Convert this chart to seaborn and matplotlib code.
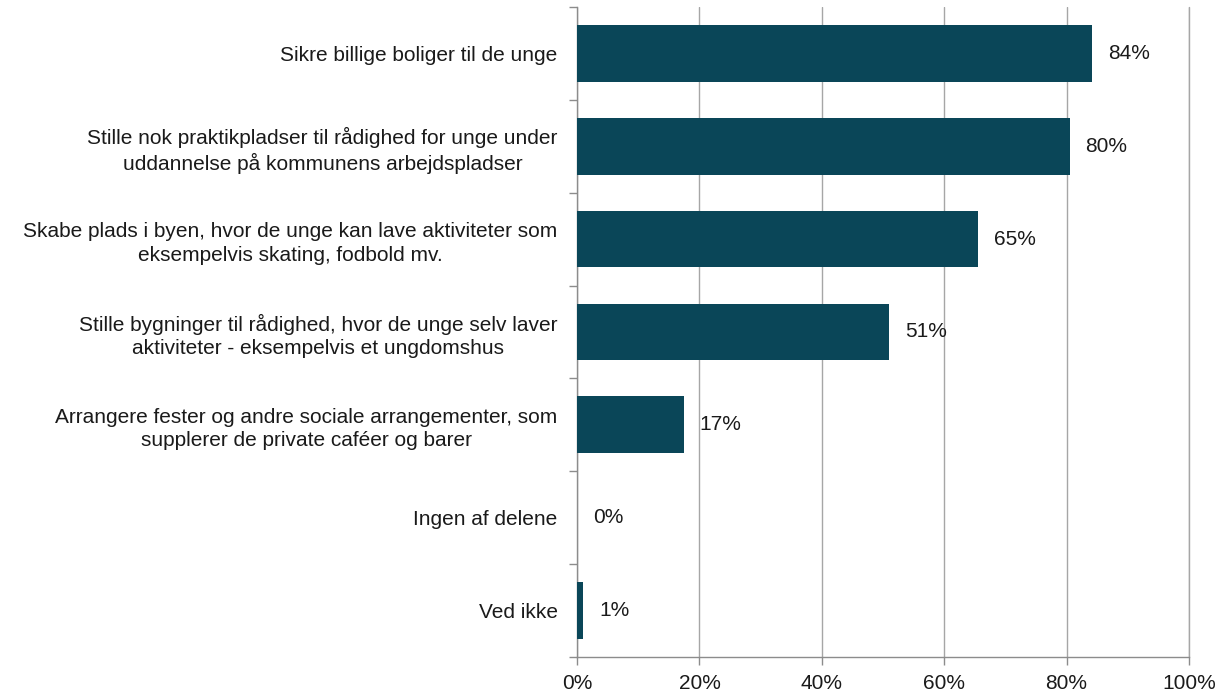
import matplotlib
matplotlib.use("Agg")
import matplotlib.pyplot as plt
import seaborn as sns
import pandas as pd

# Data
categories = [
    "Sikre billige boliger til de unge",
    "Stille nok praktikpladser til rådighed for unge under\nuddannelse på kommunens arbejdspladser",
    "Skabe plads i byen, hvor de unge kan lave aktiviteter som\neksempelvis skating, fodbold mv.",
    "Stille bygninger til rådighed, hvor de unge selv laver\naktiviteter - eksempelvis et ungdomshus",
    "Arrangere fester og andre sociale arrangementer, som\nsupplerer de private caféer og barer",
    "Ingen af delene",
    "Ved ikke",
]
values = [84.2, 80.5, 65.5, 51.0, 17.4, 0.0, 1.0]
labels = ["84%", "80%", "65%", "51%", "17%", "0%", "1%"]
xticks = [0, 20, 40, 60, 80, 100]

df = pd.DataFrame({"cat": categories, "val": values})

sns.set_style("white")
plt.rcParams["font.family"] = ["Liberation Sans", "DejaVu Sans"]

fig, ax = plt.subplots(figsize=(12.2, 6.93), dpi=100)
fig.subplots_adjust(left=0.473, right=0.9746, top=0.990, bottom=0.052)

sns.barplot(data=df, x="val", y="cat", color="#0a4658", saturation=1,
            width=0.61, linewidth=0, ax=ax, zorder=3)

# Value labels
for i, (v, lab) in enumerate(zip(values, labels)):
    ax.text(v + 2.6, i, lab, va="center", ha="left", fontsize=15, color="#1a1a1a")

ax.set_xlim(0, 100)
ax.set_ylim(6.5, -0.5)
ax.set_xticks(xticks)
ax.set_xticklabels([f"{t}%" for t in xticks], fontsize=15, color="#1a1a1a")
ax.set_yticks(range(len(categories)))
ax.set_yticklabels(categories, fontsize=15, color="#1a1a1a", ha="right",
                   multialignment="center", linespacing=1.3)
ax.tick_params(axis="y", which="major", left=False, length=0, pad=14)
ax.set_yticks([i - 0.5 for i in range(len(categories) + 1)], minor=True)
ax.tick_params(axis="y", which="minor", left=True, length=6, color="#8c8c8c", width=1)
ax.tick_params(axis="x", bottom=True, length=6, color="#8c8c8c", width=1,
               direction="out", pad=6)
ax.xaxis.grid(True, color="#a6a6a6", linewidth=1, zorder=0)
ax.axvline(100, color="#a6a6a6", linewidth=1, clip_on=False, zorder=0)
ax.set_axisbelow(True)
ax.set_xlabel("")
ax.set_ylabel("")

for s in ["top", "right"]:
    ax.spines[s].set_visible(False)
for s in ["left", "bottom"]:
    ax.spines[s].set_color("#8c8c8c")
    ax.spines[s].set_linewidth(1)

fig.savefig("out.png", dpi=100)
